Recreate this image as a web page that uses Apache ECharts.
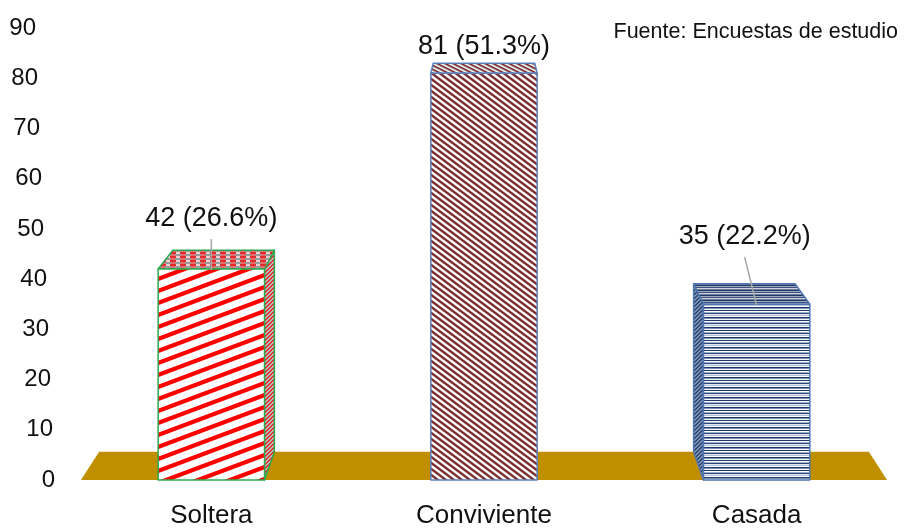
<!DOCTYPE html>
<html>
<head>
<meta charset="utf-8">
<script src="https://cdn.jsdelivr.net/npm/echarts@6/dist/echarts.min.js"></script>
<style>
  html, body { margin: 0; padding: 0; background: #fff; }
  #chart { width: 907px; height: 531px; }
</style>
</head>
<body>
<div id="chart"></div>
<script>
// data
const categories = ['Soltera', 'Conviviente', 'Casada'];
const counts = [42, 81, 35];
const percents = ['26.6', '51.3', '22.2'];
const yTicks = [0, 10, 20, 30, 40, 50, 60, 70, 80, 90];
const sourceNote = 'Fuente: Encuestas de estudio';

// layout / look
const FONT = "'Liberation Sans', Arial, sans-serif";
const labelLift = [51, 27, 68];
const labelShift = [0, 0, -12];
const depth = 0.045;

function rgb(hex) {
  const n = parseInt(hex.slice(1), 16);
  return [(n >> 16) & 255, (n >> 8) & 255, n & 255];
}

// small supersampled tile -> canvas used as a repeating fill
function makeTile(w, h, colorAt) {
  const c = document.createElement('canvas');
  c.width = w; c.height = h;
  const ctx = c.getContext('2d');
  const img = ctx.createImageData(w, h);
  const ss = 4;
  for (let y = 0; y < h; y++) {
    for (let x = 0; x < w; x++) {
      let r = 0, g = 0, b = 0;
      for (let sy = 0; sy < ss; sy++) {
        for (let sx = 0; sx < ss; sx++) {
          const col = rgb(colorAt(x + (sx + 0.5) / ss, y + (sy + 0.5) / ss));
          r += col[0]; g += col[1]; b += col[2];
        }
      }
      const k = (y * w + x) * 4, n = ss * ss;
      img.data[k] = r / n; img.data[k + 1] = g / n; img.data[k + 2] = b / n; img.data[k + 3] = 255;
    }
  }
  ctx.putImageData(img, 0, 0);
  return { image: c, repeat: 'repeat' };
}
const mod = (a, m) => ((a % m) + m) % m;

const looks = [
  {
    border: '#2EA84E',
    front: makeTile(32, 12, (x, y) => mod(y + x * 12 / 32, 12) < 4.5 ? '#FF0000' : '#FFFFFF'),
    side: makeTile(4, 4, (x, y) => mod(Math.floor(x) + Math.floor(y), 4) < 2 ? '#E23030' : '#BDBDBD'),
    top: makeTile(10, 4, (x, y) => {
      const row = Math.floor(y) % 4;
      const col = mod(x + (row < 2 ? 0 : 5), 10);
      if (row < 2) return col < 6 ? '#E02C2C' : '#F4D0D0';
      return col < 6 ? '#9A9A9A' : '#E86A6A';
    })
  },
  {
    border: '#5B80BC',
    front: makeTile(8, 6, (x, y) => mod(y - x * 6 / 8, 6) < 3 ? '#7A2C2C' : '#FFFFFF'),
    side: makeTile(4, 4, (x, y) => mod(x + y, 4) < 2 ? '#7A2C2C' : '#D8D8D8'),
    top: makeTile(8, 4, (x, y) => {
      const p = mod(y - x * 4 / 8, 4);
      return p < 1.6 ? '#7A2C2C' : (p < 2.6 ? '#A8A8A8' : '#FFFFFF');
    })
  },
  {
    border: '#4F76B0',
    front: makeTile(1, 10, (x, y) => ['#1F3864', '#FFFFFF', '#9FB0CE', '#2C4778', '#E2E8F1',
      '#B5C2D9', '#FFFFFF', '#1F3864', '#7D92B6', '#F4F6FA'][Math.floor(y)]),
    side: makeTile(4, 4, (x, y) => mod(x + y, 4) < 2 ? '#1F3864' : '#8FA3C4'),
    top: makeTile(6, 5, (x, y) => ['#1F3864', '#A2AABA', '#3A5080', '#CDD3DD', '#6A7C9C'][Math.floor(y)])
  }
];

function vanish(cs) {
  return [cs.x + cs.width / 2, cs.y - 177];
}
function toBack(p, vp) {
  return [p[0] + (vp[0] - p[0]) * depth, p[1] + (vp[1] - p[1]) * depth];
}

function renderFloor(params, api) {
  const cs = params.coordSys;
  const vp = vanish(cs);
  const y0 = api.coord([0, 0])[1];
  const fl = [cs.x + 6, y0], fr = [cs.x + cs.width - 6, y0];
  return {
    type: 'polygon',
    shape: { points: [fl, fr, toBack(fr, vp), toBack(fl, vp)] },
    style: { fill: '#BF8F00' }
  };
}

function renderBar(params, api) {
  const i = api.value(0);
  const v = api.value(1);
  const cs = params.coordSys;
  const vp = vanish(cs);
  const base = api.coord([i, 0]);
  const top = api.coord([i, v]);
  const w = api.size([1, 0])[0] * 0.39;
  const xl = top[0] - w / 2, xr = top[0] + w / 2;
  const y0 = base[1], y1 = top[1];
  const look = looks[i];
  const edge = { stroke: look.border, lineWidth: 1.5, lineJoin: 'round' };
  const kids = [];

  const tl = [xl, y1], tr = [xr, y1], bl = [xl, y0], br = [xr, y0];
  if (xr < vp[0] - 5) {
    kids.push({ type: 'polygon', shape: { points: [tr, br, toBack(br, vp), toBack(tr, vp)] },
      style: Object.assign({ fill: look.side }, edge) });
  } else if (xl > vp[0] + 5) {
    kids.push({ type: 'polygon', shape: { points: [tl, bl, toBack(bl, vp), toBack(tl, vp)] },
      style: Object.assign({ fill: look.side }, edge) });
  }
  kids.push({ type: 'polygon', shape: { points: [tl, tr, toBack(tr, vp), toBack(tl, vp)] },
    style: Object.assign({ fill: look.top }, edge) });
  kids.push({ type: 'polygon', shape: { points: [tl, tr, br, bl] },
    style: Object.assign({ fill: look.front }, edge) });

  const lx = top[0] + labelShift[i];
  const ly = y1 - labelLift[i];
  if (y1 - (ly + 20) > 12) {
    kids.push({ type: 'line', shape: { x1: lx, y1: ly + 21, x2: top[0], y2: y1 + 1 },
      style: { stroke: '#A6A6A6', lineWidth: 1.5 } });
  }
  kids.push({ type: 'text', x: lx, y: ly,
    style: { text: counts[i] + ' (' + percents[i] + '%)', fill: '#111', font: '27px ' + FONT,
      align: 'center', verticalAlign: 'middle' } });
  return { type: 'group', children: kids };
}

const yRich = {};
yTicks.forEach(v => { yRich['t' + v] = { padding: [0, Math.round(v * 0.21), 0, 0] }; });

const chart = echarts.init(document.getElementById('chart'));
chart.setOption({
  animation: false,
  backgroundColor: '#fff',
  title: {
    text: sourceNote,
    right: 4,
    top: 16,
    textStyle: { fontFamily: FONT, fontSize: 21.5, fontWeight: 'normal', color: '#111' }
  },
  grid: { left: 75, right: 14, top: 28, bottom: 51, outerBoundsMode: 'none' },
  xAxis: {
    type: 'category',
    data: categories,
    axisLine: { show: false },
    axisTick: { show: false },
    axisLabel: { margin: 23, fontFamily: FONT, fontSize: 26, color: '#111' }
  },
  yAxis: {
    type: 'value',
    min: 0,
    max: 90,
    interval: 10,
    splitLine: { show: false },
    axisLine: { show: false },
    axisTick: { show: false },
    axisLabel: {
      margin: 20,
      fontFamily: FONT,
      fontSize: 24,
      color: '#111',
      formatter: v => '{t' + v + '|' + v + '}',
      rich: yRich
    }
  },
  series: [
    {
      type: 'custom',
      renderItem: renderFloor,
      data: [[0, 0]],
      z: 1,
      silent: true
    },
    {
      type: 'custom',
      renderItem: renderBar,
      data: counts.map((c, i) => [i, c]),
      z: 2
    }
  ]
});
</script>
</body>
</html>
